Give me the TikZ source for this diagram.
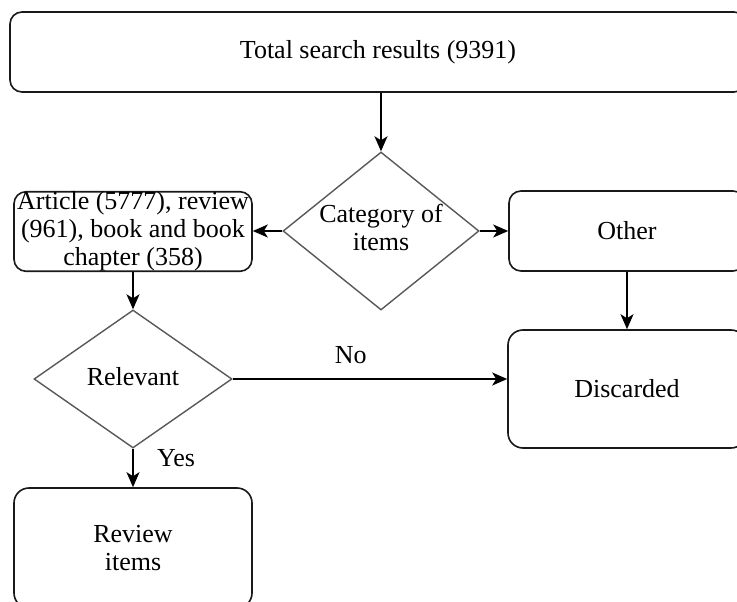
\documentclass[tikz,border=0pt]{standalone}
\usepackage{fontspec}
\setmainfont{Liberation Serif}
\usetikzlibrary{shapes.geometric,arrows.meta}
\begin{document}
\begin{tikzpicture}[x=1pt,y=-1pt,
  every node/.style={font=\fontsize{26}{28}\selectfont},
  box/.style={draw=black!90,line width=1.6pt,rounded corners=12pt,align=center,inner sep=0pt},
  decision/.style={draw=black!65,line width=1.4pt,shape=diamond,inner sep=-18pt,align=center},
  arr/.style={draw=black,line width=1.6pt,-{Stealth[length=15pt,width=13pt,inset=4pt]}},
  lbl/.style={font=\fontsize{26}{28}\selectfont}]
\useasboundingbox (0,0) rectangle (737,602);
\clip (0,0) rectangle (737,602);
\fill[white] (0,0) rectangle (737,602);
% boxes
\node[box,minimum width=736pt,minimum height=80pt] (top) at (378,52) {Total search results (9391)};
\node[box,minimum width=238pt,minimum height=79pt] (art) at (133,231.5) {Article (5777), review\\(961), book and book\\chapter (358)};
\node[box,minimum width=236pt,minimum height=80pt] (oth) at (627,231) {Other};
\node[box,rounded corners=15pt,minimum width=238pt,minimum height=118pt] (dis) at (627,389) {Discarded};
\node[box,rounded corners=15pt,minimum width=238pt,minimum height=120pt] (rev) at (133,548) {Review\\items};
% decisions
\node[decision,minimum width=196pt,minimum height=158pt] (d1) at (381,231) {\raisebox{5pt}{\begin{tabular}{@{}c@{}}Category of\\items\end{tabular}}};
\node[decision,minimum width=198pt,minimum height=138pt] (d2) at (133,379) {\raisebox{5pt}{Relevant}};
% connectors
\draw[arr] (d1.north |- top.south) -- (d1.north);
\draw[arr] (d1.west) -- (d1.west -| art.east);
\draw[arr] (d1.east) -- (d1.east -| oth.west);
\draw[arr] (oth.south) -- (dis.north);
\draw[arr] (art.south) -- (d2.north);
\draw[arr] (d2.east) -- (d2.east -| dis.west)
  node[lbl,pos=0.43,anchor=base,yshift=16pt] (no) {No};
\draw[arr] (d2.south) -- (rev.north)
  node[lbl,pos=0.45,anchor=base west,xshift=20pt] (yes) {Yes};
\end{tikzpicture}
\end{document}
